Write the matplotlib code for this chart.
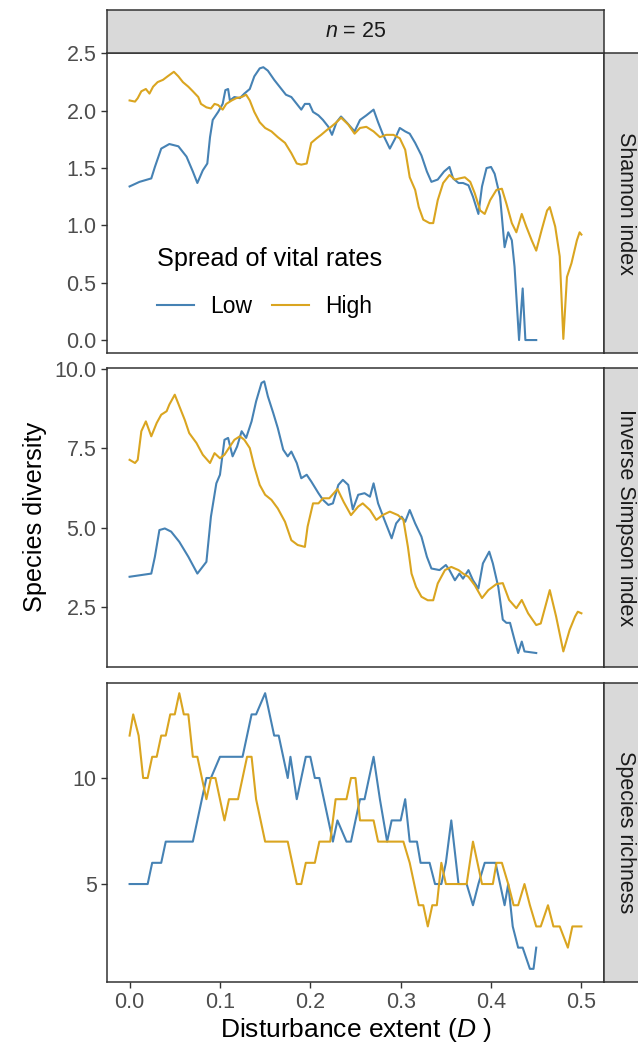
import numpy as np
import matplotlib
matplotlib.use("Agg")
import matplotlib.pyplot as plt
from matplotlib.lines import Line2D

plt.rcParams['font.family'] = 'Liberation Sans'
plt.rcParams['mathtext.fontset'] = 'custom'
plt.rcParams['mathtext.rm'] = 'Liberation Sans'
plt.rcParams['mathtext.it'] = 'Liberation Sans:italic'

LOW_COL = '#4682B4'
HIGH_COL = '#DAA520'
DARK = '#333333'
TICK_TXT = '#4D4D4D'
STRIP_FILL = '#D9D9D9'

# ---- Shannon index ----
shannon_low_x = [
    0, 0.011, 0.024, 0.028, 0.035, 0.044, 0.054, 0.063, 0.07, 0.075,
    0.081, 0.086, 0.089, 0.092, 0.098, 0.103, 0.106, 0.109, 0.111, 0.116,
    0.122, 0.127, 0.133, 0.138, 0.144, 0.148, 0.153, 0.16, 0.168, 0.173,
    0.179, 0.185, 0.19, 0.194, 0.199, 0.203, 0.209, 0.214, 0.22, 0.224,
    0.229, 0.234, 0.24, 0.249, 0.255, 0.262, 0.27, 0.275, 0.28, 0.288,
    0.294, 0.299, 0.305, 0.31, 0.316, 0.323, 0.329, 0.334, 0.341, 0.348,
    0.354, 0.358, 0.364, 0.369, 0.375, 0.38, 0.386, 0.39, 0.395, 0.4,
    0.404, 0.41, 0.415, 0.419, 0.423, 0.426, 0.431, 0.435, 0.438, 0.45]
shannon_low_y = [
    1.34, 1.38, 1.41, 1.51, 1.67, 1.71, 1.69, 1.60, 1.47, 1.37,
    1.48, 1.54, 1.77, 1.92, 1.99, 2.06, 2.18, 2.19, 2.09, 2.12,
    2.11, 2.15, 2.19, 2.30, 2.37, 2.38, 2.35, 2.27, 2.19, 2.14,
    2.12, 2.06, 2.01, 2.06, 2.06, 1.99, 1.96, 1.92, 1.86, 1.79,
    1.90, 1.95, 1.90, 1.82, 1.92, 1.96, 2.01, 1.90, 1.80, 1.67,
    1.76, 1.85, 1.82, 1.80, 1.72, 1.61, 1.47, 1.38, 1.40, 1.47,
    1.51, 1.41, 1.37, 1.37, 1.35, 1.25, 1.10, 1.34, 1.50, 1.51,
    1.45, 1.25, 0.81, 0.94, 0.87, 0.64, 0.00, 0.45, 0.00, 0.00]
shannon_high_x = [
    0, 0.006, 0.009, 0.013, 0.018, 0.022, 0.026, 0.031, 0.037, 0.042,
    0.049, 0.054, 0.059, 0.065, 0.07, 0.076, 0.079, 0.085, 0.09, 0.094,
    0.098, 0.103, 0.107, 0.113, 0.118, 0.124, 0.129, 0.133, 0.138, 0.144,
    0.15, 0.157, 0.164, 0.172, 0.179, 0.185, 0.19, 0.196, 0.201, 0.207,
    0.212, 0.218, 0.223, 0.229, 0.234, 0.242, 0.249, 0.255, 0.262, 0.27,
    0.277, 0.284, 0.292, 0.299, 0.305, 0.31, 0.316, 0.32, 0.325, 0.332,
    0.336, 0.341, 0.347, 0.354, 0.36, 0.365, 0.371, 0.377, 0.382, 0.388,
    0.393, 0.399, 0.406, 0.412, 0.417, 0.423, 0.428, 0.434, 0.439, 0.445,
    0.45, 0.456, 0.462, 0.465, 0.471, 0.476, 0.48, 0.484, 0.489, 0.495,
    0.498, 0.5]
shannon_high_y = [
    2.09, 2.08, 2.11, 2.17, 2.19, 2.15, 2.21, 2.25, 2.27, 2.30,
    2.34, 2.30, 2.25, 2.21, 2.17, 2.12, 2.06, 2.03, 2.02, 2.06,
    2.05, 2.01, 2.06, 2.09, 2.11, 2.12, 2.14, 2.09, 1.99, 1.90,
    1.85, 1.82, 1.77, 1.72, 1.63, 1.54, 1.53, 1.54, 1.72, 1.76,
    1.79, 1.83, 1.86, 1.90, 1.94, 1.88, 1.80, 1.85, 1.86, 1.82,
    1.77, 1.79, 1.79, 1.76, 1.66, 1.42, 1.31, 1.16, 1.05, 1.02,
    1.02, 1.22, 1.37, 1.44, 1.40, 1.41, 1.42, 1.38, 1.28, 1.13,
    1.10, 1.22, 1.31, 1.32, 1.19, 1.02, 0.94, 1.10, 0.99, 0.87,
    0.78, 0.96, 1.13, 1.16, 0.99, 0.73, 0.01, 0.55, 0.67, 0.87,
    0.94, 0.92]

# ---- Inverse Simpson index ----
simpson_low_x = [
    0, 0.024, 0.028, 0.033, 0.039, 0.046, 0.055, 0.065, 0.075, 0.085,
    0.09, 0.096, 0.1, 0.105, 0.109, 0.114, 0.119, 0.124, 0.129, 0.135,
    0.14, 0.146, 0.149, 0.153, 0.159, 0.164, 0.17, 0.175, 0.179, 0.185,
    0.19, 0.196, 0.201, 0.209, 0.214, 0.22, 0.225, 0.231, 0.236, 0.242,
    0.247, 0.253, 0.26, 0.266, 0.27, 0.275, 0.282, 0.29, 0.295, 0.301,
    0.305, 0.31, 0.316, 0.323, 0.329, 0.334, 0.343, 0.35, 0.354, 0.36,
    0.365, 0.369, 0.375, 0.38, 0.386, 0.391, 0.398, 0.402, 0.408, 0.413,
    0.417, 0.421, 0.426, 0.43, 0.434, 0.437, 0.45]
simpson_low_y = [
    3.45, 3.55, 4.08, 4.92, 4.97, 4.87, 4.55, 4.08, 3.55, 3.92,
    5.34, 6.39, 6.66, 7.76, 7.82, 7.24, 7.55, 8.03, 7.82, 8.34,
    8.97, 9.55, 9.60, 9.13, 8.60, 8.13, 7.45, 7.24, 7.39, 7.03,
    6.55, 6.66, 6.45, 6.08, 5.87, 5.71, 5.76, 6.34, 6.50, 6.34,
    5.57, 6.03, 6.08, 5.97, 6.39, 5.76, 5.24, 4.66, 5.13, 5.34,
    5.18, 5.55, 5.13, 4.71, 4.08, 3.71, 3.66, 3.82, 3.66, 3.34,
    3.55, 3.39, 3.66, 3.34, 3.08, 3.87, 4.24, 3.87, 3.13, 2.10,
    2.00, 2.00, 1.46, 1.05, 1.41, 1.10, 1.05]
simpson_high_x = [
    0, 0.006, 0.009, 0.013, 0.018, 0.024, 0.03, 0.035, 0.041, 0.044,
    0.05, 0.055, 0.061, 0.066, 0.074, 0.081, 0.089, 0.094, 0.1, 0.105,
    0.111, 0.116, 0.122, 0.127, 0.133, 0.138, 0.144, 0.15, 0.157, 0.164,
    0.172, 0.179, 0.186, 0.194, 0.197, 0.203, 0.209, 0.214, 0.221, 0.23,
    0.237, 0.245, 0.253, 0.258, 0.266, 0.273, 0.28, 0.288, 0.297, 0.303,
    0.308, 0.312, 0.317, 0.323, 0.33, 0.336, 0.341, 0.349, 0.356, 0.364,
    0.369, 0.375, 0.382, 0.39, 0.397, 0.406, 0.413, 0.42, 0.428, 0.434,
    0.441, 0.45, 0.455, 0.465, 0.472, 0.48, 0.487, 0.493, 0.496, 0.5]
simpson_high_y = [
    7.13, 7.03, 7.13, 8.03, 8.34, 7.87, 8.29, 8.55, 8.66, 8.87,
    9.18, 8.82, 8.39, 7.97, 7.66, 7.29, 7.03, 7.34, 7.18, 7.29,
    7.55, 7.76, 7.87, 7.76, 7.50, 6.92, 6.34, 6.03, 5.87, 5.60,
    5.18, 4.60, 4.45, 4.39, 5.03, 5.76, 5.76, 5.92, 5.92, 6.21,
    5.80, 5.39, 5.66, 5.76, 5.55, 5.24, 5.39, 5.50, 5.39, 5.24,
    4.39, 3.55, 3.13, 2.82, 2.71, 2.71, 3.24, 3.66, 3.76, 3.66,
    3.55, 3.45, 3.18, 2.78, 3.03, 3.22, 3.25, 2.72, 2.46, 2.72,
    2.30, 1.93, 1.98, 3.03, 2.20, 1.10, 1.78, 2.20, 2.35, 2.30]

# ---- Species richness ----
richness_low_x = [
    0, 0.02, 0.025, 0.035, 0.04, 0.07, 0.08, 0.085, 0.09, 0.1,
    0.125, 0.13, 0.135, 0.14, 0.15, 0.16, 0.165, 0.175, 0.178, 0.185,
    0.19, 0.195, 0.2, 0.205, 0.21, 0.22, 0.225, 0.23, 0.24, 0.245,
    0.25, 0.255, 0.26, 0.27, 0.277, 0.285, 0.29, 0.3, 0.305, 0.31,
    0.318, 0.322, 0.332, 0.338, 0.345, 0.35, 0.356, 0.364, 0.373, 0.38,
    0.386, 0.393, 0.405, 0.41, 0.415, 0.419, 0.424, 0.43, 0.435, 0.443,
    0.447, 0.45]
richness_low_y = [
    5, 5, 6, 6, 7, 7, 9, 10, 10, 11,
    11, 12, 13, 13, 14, 12, 12, 10, 11, 9,
    10, 11, 11, 10, 10, 8, 7, 8, 7, 7,
    8, 9, 9, 11, 9, 7, 8, 8, 9, 7,
    7, 6, 6, 5, 5, 6, 8, 5, 5, 4,
    5, 6, 6, 5, 4, 5, 3, 2, 2, 1,
    1, 2]
richness_high_x = [
    0, 0.004, 0.01, 0.015, 0.02, 0.025, 0.03, 0.035, 0.04, 0.045,
    0.05, 0.055, 0.06, 0.065, 0.07, 0.075, 0.08, 0.085, 0.09, 0.095,
    0.1, 0.105, 0.11, 0.12, 0.125, 0.13, 0.135, 0.14, 0.15, 0.175,
    0.18, 0.185, 0.19, 0.195, 0.205, 0.21, 0.222, 0.228, 0.24, 0.245,
    0.25, 0.255, 0.27, 0.275, 0.303, 0.31, 0.32, 0.325, 0.33, 0.335,
    0.34, 0.345, 0.35, 0.373, 0.38, 0.39, 0.402, 0.406, 0.412, 0.419,
    0.425, 0.43, 0.437, 0.443, 0.45, 0.455, 0.463, 0.469, 0.476, 0.485,
    0.49, 0.5]
richness_high_y = [
    12, 13, 12, 10, 10, 11, 11, 12, 12, 13,
    13, 14, 13, 13, 11, 11, 10, 9, 10, 10,
    9, 8, 9, 9, 10, 11, 11, 9, 7, 7,
    6, 5, 5, 6, 6, 7, 7, 9, 9, 10,
    10, 8, 8, 7, 7, 6, 4, 4, 3, 4,
    4, 6, 5, 5, 7, 5, 5, 6, 6, 5,
    4, 4, 5, 4, 3, 3, 4, 3, 3, 2,
    3, 3]

facet_names = ['Shannon index', 'Inverse Simpson index', 'Species richness']
y_limits = [(-0.113, 2.504), (0.61, 10.02), (0.38, 14.48)]
y_ticks = [[0.0, 0.5, 1.0, 1.5, 2.0, 2.5], [2.5, 5.0, 7.5, 10.0], [5, 10]]
y_ticklabels = [['0.0', '0.5', '1.0', '1.5', '2.0', '2.5'],
                ['2.5', '5.0', '7.5', '10.0'], ['5', '10']]
x_ticks = [0.0, 0.1, 0.2, 0.3, 0.4, 0.5]
x_ticklabels = ['0.0', '0.1', '0.2', '0.3', '0.4', '0.5']

series = [
    (shannon_low_x, shannon_low_y, shannon_high_x, shannon_high_y),
    (simpson_low_x, simpson_low_y, simpson_high_x, simpson_high_y),
    (richness_low_x, richness_low_y, richness_high_x, richness_high_y),
]

# page layout in pixels
W, H = 638, 1053
fig = plt.figure(figsize=(W / 100, H / 100), dpi=100)
LEFT, RIGHT = 107, 604
ROWS = [(53, 353), (368, 667), (683, 982)]
STRIP = 43

def box(x0, y0, x1, y1):
    return [x0 / W, 1 - y1 / H, (x1 - x0) / W, (y1 - y0) / H]

def style_frame(a, lw=1.1):
    for s in a.spines.values():
        s.set_color(DARK)
        s.set_linewidth(lw)

TICK_FS = 15.5
LEG_FS = 16.5
TITLE_FS = 18.2

axes = []
for i, (top, bot) in enumerate(ROWS):
    ax = fig.add_axes(box(LEFT, top, RIGHT, bot))
    lx, ly, hx, hy = series[i]
    ax.plot(lx, ly, color=LOW_COL, lw=1.5, label='Low', zorder=3)
    ax.plot(hx, hy, color=HIGH_COL, lw=1.5, label='High', zorder=3)
    ax.set_xlim(-0.025, 0.525)
    ax.set_ylim(*y_limits[i])
    ax.set_yticks(y_ticks[i])
    ax.set_yticklabels(y_ticklabels[i])
    ax.set_xticks(x_ticks)
    if i == len(ROWS) - 1:
        ax.set_xticklabels(x_ticklabels)
        ax.tick_params(axis='x', length=4.5, width=1.0, color=DARK,
                       labelsize=TICK_FS, labelcolor=TICK_TXT, pad=3)
    else:
        ax.tick_params(axis='x', bottom=False, labelbottom=False)
    ax.tick_params(axis='y', length=4.5, width=1.0, color=DARK,
                   labelsize=TICK_FS, labelcolor=TICK_TXT, pad=3)
    style_frame(ax)

    # facet label on the right
    sx = fig.add_axes(box(RIGHT, top, RIGHT + STRIP, bot))
    sx.set_facecolor(STRIP_FILL)
    sx.set_xticks([])
    sx.set_yticks([])
    style_frame(sx)
    sx.text(0.5, 0.5, facet_names[i], rotation=-90, ha='center', va='center',
            fontsize=TICK_FS, color='#1A1A1A', transform=sx.transAxes)
    axes.append(ax)

# column label on top
tx = fig.add_axes(box(LEFT, 53 - STRIP, RIGHT, 53))
tx.set_facecolor(STRIP_FILL)
tx.set_xticks([])
tx.set_yticks([])
style_frame(tx)
tx.text(0.5, 0.5, '$n$ = 25', ha='center', va='center', fontsize=TICK_FS,
        color='#1A1A1A', transform=tx.transAxes)

# legend inside the top panel
handles = [Line2D([], [], color=LOW_COL, lw=1.5),
           Line2D([], [], color=HIGH_COL, lw=1.5)]
leg = axes[0].legend(handles, ['Low', 'High'], title='Spread of vital rates',
                     ncol=2, frameon=False, loc='upper left',
                     bbox_to_anchor=(157 / W, 1 - 247 / H),
                     bbox_transform=fig.transFigure,
                     borderpad=0, borderaxespad=0, handlelength=1.6,
                     handletextpad=0.7, columnspacing=0.9, labelspacing=1.05,
                     fontsize=LEG_FS, title_fontsize=TITLE_FS,
                     alignment='left')
for t in leg.get_texts():
    t.set_color('#000000')

fig.text(35 / W, 1 - 517 / H, 'Species diversity', rotation=90,
         ha='center', va='center', fontsize=TITLE_FS)
fig.text((LEFT + RIGHT) / 2 / W, 1 - 1030 / H, 'Disturbance extent ($D$ )',
         ha='center', va='center', fontsize=19)

fig.savefig('out.png', dpi=100)
